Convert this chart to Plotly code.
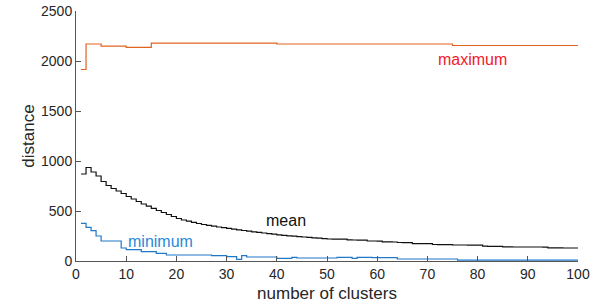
import plotly.graph_objects as go

clusters = list(range(1, 101))

maximum = [1915, 2170, 2170, 2170, 2148, 2148, 2148, 2148, 2148, 2137,
           2137, 2137, 2137, 2137, 2178, 2178, 2178, 2178, 2178, 2178,
           2178, 2178, 2178, 2178, 2178, 2178, 2178, 2178, 2178, 2178,
           2178, 2178, 2178, 2178, 2178, 2178, 2178, 2178, 2178, 2170,
           2170, 2170, 2170, 2170, 2170, 2170, 2170, 2170, 2170, 2170,
           2170, 2170, 2170, 2170, 2170, 2170, 2170, 2170, 2170, 2170,
           2170, 2170, 2170, 2170, 2170, 2170, 2170, 2170, 2170, 2170,
           2170, 2170, 2170, 2170, 2155, 2155, 2155, 2155, 2155, 2155,
           2155, 2155, 2155, 2155, 2155, 2155, 2155, 2155, 2155, 2155,
           2155, 2155, 2155, 2155, 2155, 2155, 2155, 2155, 2155, 2155]

mean = [870, 935, 890, 850, 795, 755, 725, 700, 675, 645,
        620, 595, 570, 548, 527, 505, 485, 465, 445, 425,
        410, 398, 386, 375, 365, 356, 348, 340, 333, 326,
        319, 312, 305, 298, 292, 286, 280, 274, 268, 262,
        257, 252, 248, 244, 240, 236, 232, 228, 224, 220,
        219, 218, 218, 212, 210, 209, 208, 200, 200, 199,
        192, 191, 190, 185, 184, 183, 174, 174, 173, 173,
        165, 164, 164, 163, 160, 160, 160, 159, 158, 158,
        148, 147, 147, 146, 141, 141, 140, 140, 140, 140,
        140, 140, 139, 131, 131, 131, 130, 130, 130, 130]

minimum = [377, 337, 303, 250, 200, 200, 200, 200, 130, 113,
           113, 113, 93, 93, 93, 77, 77, 60, 60, 60,
           60, 60, 60, 60, 60, 60, 53, 53, 53, 43,
           43, 17, 53, 40, 40, 40, 40, 40, 40, 27,
           27, 27, 37, 30, 30, 30, 30, 30, 30, 30,
           30, 37, 37, 37, 27, 37, 37, 37, 33, 33,
           33, 33, 33, 20, 20, 20, 20, 20, 20, 20,
           20, 20, 20, 20, 20, 8, 8, 8, 8, 8,
           8, 8, 8, 8, 8, 8, 8, 8, 8, 8,
           8, 8, 8, 8, 8, 8, 8, 8, 8, 8]

x_ticks = [0, 10, 20, 30, 40, 50, 60, 70, 80, 90, 100]
y_ticks = [0, 500, 1000, 1500, 2000, 2500]

FONT = "Liberation Sans, Arial, sans-serif"

fig = go.Figure()
fig.add_trace(go.Scatter(x=clusters, y=maximum, mode="lines", line=dict(shape="hv", color="#E0641E", width=1.2), name="maximum"))
fig.add_trace(go.Scatter(x=clusters, y=mean, mode="lines", line=dict(shape="hv", color="#111111", width=1.2), name="mean"))
fig.add_trace(go.Scatter(x=clusters, y=minimum, mode="lines", line=dict(shape="hv", color="#1F78C8", width=1.2), name="minimum"))

fig.add_annotation(x=79, y=2020, text="maximum", showarrow=False, font=dict(family=FONT, size=16, color="#F0202A"))
fig.add_annotation(x=41.9, y=410, text="mean", showarrow=False, font=dict(family=FONT, size=16, color="#111111"))
fig.add_annotation(x=16.8, y=195, text="minimum", showarrow=False, font=dict(family=FONT, size=16, color="#2A8AD8"))

axis_common = dict(showgrid=False, zeroline=False, showline=True, linecolor="#555555", linewidth=1,
                   ticks="inside", ticklen=5, tickcolor="#555555", automargin=False,
                   tickfont=dict(family=FONT, size=14, color="#262626"), mirror=False)

fig.update_xaxes(range=[0, 100], tickvals=x_ticks, **axis_common,
                 title=dict(text="number of clusters", font=dict(family=FONT, size=17, color="#262626"), standoff=6))
fig.update_yaxes(range=[0, 2500], tickvals=y_ticks, **axis_common,
                 title=dict(text="distance", font=dict(family=FONT, size=17, color="#262626"), standoff=2))

fig.update_layout(width=605, height=306, margin=dict(l=76, r=27, t=11, b=45),
                  plot_bgcolor="white", paper_bgcolor="white", showlegend=False)

fig.write_html("out.html", config={"displayModeBar": False},
               post_script="document.body.style.margin='0px';")
